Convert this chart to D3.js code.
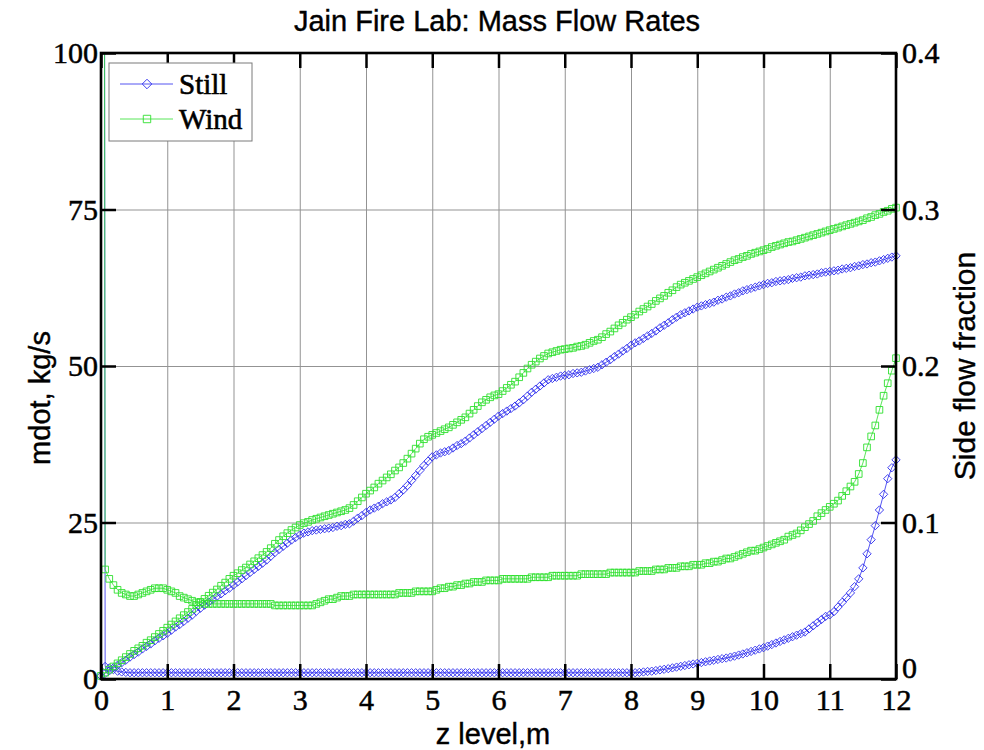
<!DOCTYPE html>
<html>
<head>
<meta charset="utf-8">
<script src="https://cdn.jsdelivr.net/npm/d3@7"></script>
<style>
  body { margin: 0; background: #fff; }
  svg { display: block; }
</style>
</head>
<body>
<svg id="chart" width="984" height="750"></svg>
<script>
// Height step of the sampled levels (m)
const zStep = 0.0625;

// Mass flow rate through each level, kg/s (left axis)
const stillMdot = [
  0.5,0.9,1.3,1.8,2.2,2.6,3.0,3.5,3.9,4.3,4.8,5.2,5.6,6.1,6.5,6.9,
  7.3,7.8,8.3,8.7,9.2,9.7,10.2,10.8,11.3,11.8,12.3,12.7,13.2,13.6,14.1,14.5,
  15.0,15.5,16.0,16.5,17.0,17.5,18.0,18.5,19.0,19.6,20.2,20.7,21.2,21.7,22.2,22.6,
  23.0,23.3,23.5,23.7,23.8,23.9,24.0,24.1,24.2,24.4,24.5,24.7,24.8,25.2,25.7,26.1,
  26.6,27.0,27.3,27.6,28.0,28.3,28.6,29.0,29.6,30.2,30.9,31.7,32.5,33.3,34.1,34.8,
  35.5,35.8,36.1,36.3,36.5,36.9,37.3,37.6,38.0,38.5,39.0,39.5,40.0,40.5,41.0,41.5,
  42.0,42.4,42.8,43.2,43.6,44.1,44.6,45.2,45.8,46.3,46.8,47.3,47.8,48.0,48.2,48.4,
  48.5,48.6,48.8,48.9,49.0,49.2,49.4,49.6,49.8,50.2,50.6,51.0,51.5,51.9,52.4,52.8,
  53.3,53.7,54.0,54.4,54.8,55.2,55.6,56.1,56.5,56.9,57.4,57.8,58.2,58.5,58.8,59.1,
  59.4,59.6,59.8,60.0,60.2,60.5,60.7,61.0,61.2,61.5,61.7,62.0,62.2,62.4,62.6,62.8,
  63.0,63.2,63.3,63.5,63.6,63.7,63.8,64.0,64.1,64.2,64.4,64.5,64.6,64.7,64.9,65.0,
  65.1,65.2,65.3,65.5,65.6,65.7,65.9,66.0,66.2,66.3,66.5,66.6,66.8,67.0,67.2,67.4,
  67.6
];
const windMdot = [
  0.5,1.0,1.5,2.0,2.5,3.0,3.5,4.0,4.5,4.9,5.3,5.8,6.2,6.7,7.2,7.7,
  8.2,8.7,9.2,9.7,10.2,10.7,11.2,11.8,12.3,12.8,13.3,13.8,14.3,14.9,15.4,16.0,
  16.5,16.9,17.4,17.8,18.3,18.8,19.3,19.8,20.3,20.9,21.6,22.2,22.8,23.3,23.8,24.2,
  24.6,24.9,25.1,25.4,25.6,25.8,26.0,26.2,26.4,26.6,26.8,27.0,27.3,27.8,28.4,29.0,
  29.6,30.1,30.6,31.2,31.7,32.2,32.7,33.3,33.8,34.5,35.2,36.0,36.8,37.6,38.3,38.7,
  39.0,39.3,39.6,39.9,40.2,40.6,41.0,41.4,41.8,42.4,43.0,43.6,44.2,44.6,45.0,45.3,
  45.5,46.0,46.5,47.0,47.5,48.2,48.9,49.6,50.2,50.7,51.2,51.6,52.0,52.2,52.4,52.6,
  52.7,52.8,52.9,53.1,53.2,53.4,53.7,54.0,54.2,54.6,55.1,55.5,56.0,56.5,56.9,57.4,
  57.8,58.2,58.7,59.1,59.5,59.9,60.4,60.8,61.2,61.7,62.1,62.6,63.0,63.3,63.6,63.9,
  64.2,64.5,64.8,65.1,65.4,65.7,66.0,66.3,66.6,66.9,67.1,67.4,67.6,67.9,68.1,68.3,
  68.5,68.7,69.0,69.2,69.4,69.6,69.8,69.9,70.1,70.3,70.5,70.7,70.9,71.1,71.3,71.5,
  71.7,71.9,72.1,72.3,72.5,72.7,72.9,73.1,73.3,73.6,73.8,74.1,74.3,74.6,74.8,75.1,
  75.3
];

// Side flow fraction at each level (right axis); the value at z = 0 is off scale
const stillSide = [
  3.0,0.008,0.007,0.006,0.005,0.0045,0.0042,0.004,0.004,0.004,0.004,0.004,0.004,0.004,0.004,0.004,
  0.004,0.004,0.004,0.004,0.004,0.004,0.004,0.004,0.004,0.004,0.004,0.004,0.004,0.004,0.004,0.004,
  0.004,0.004,0.004,0.004,0.004,0.004,0.004,0.004,0.004,0.004,0.004,0.004,0.004,0.004,0.004,0.004,
  0.004,0.004,0.004,0.004,0.004,0.004,0.004,0.004,0.004,0.004,0.004,0.004,0.004,0.004,0.004,0.004,
  0.004,0.004,0.004,0.004,0.004,0.004,0.004,0.004,0.004,0.004,0.004,0.004,0.004,0.004,0.004,0.004,
  0.004,0.004,0.004,0.004,0.004,0.004,0.004,0.004,0.004,0.004,0.004,0.004,0.004,0.004,0.004,0.004,
  0.004,0.004,0.004,0.004,0.004,0.004,0.004,0.004,0.004,0.004,0.004,0.004,0.004,0.004,0.004,0.004,
  0.004,0.004,0.004,0.004,0.004,0.004,0.004,0.004,0.004,0.004,0.004,0.004,0.004,0.004,0.004,0.004,
  0.004,0.004,0.0042,0.0045,0.0048,0.005,0.0054,0.0058,0.0062,0.0066,0.0071,0.0076,0.0081,0.0086,0.0091,0.0096,
  0.010,0.0105,0.011,0.0115,0.012,0.0125,0.013,0.0134,0.014,0.0146,0.0153,0.016,0.0168,0.0176,0.0184,0.0192,
  0.020,0.021,0.022,0.023,0.024,0.025,0.026,0.027,0.028,0.029,0.030,0.032,0.034,0.036,0.038,0.040,
  0.041,0.043,0.046,0.049,0.052,0.055,0.059,0.064,0.071,0.080,0.089,0.098,0.108,0.118,0.128,0.135,
  0.140
];
const windSide = [
  2.5,0.070,0.064,0.060,0.057,0.055,0.054,0.053,0.053,0.054,0.055,0.056,0.057,0.058,0.058,0.058,
  0.057,0.056,0.055,0.053,0.052,0.051,0.050,0.049,0.049,0.048,0.048,0.048,0.048,0.048,0.048,0.048,
  0.048,0.048,0.048,0.048,0.048,0.048,0.048,0.048,0.048,0.048,0.047,0.047,0.047,0.047,0.047,0.047,
  0.047,0.047,0.047,0.047,0.048,0.049,0.050,0.051,0.051,0.052,0.053,0.053,0.053,0.054,0.054,0.054,
  0.054,0.054,0.054,0.054,0.054,0.054,0.054,0.054,0.055,0.055,0.055,0.055,0.056,0.056,0.056,0.056,
  0.056,0.057,0.058,0.058,0.059,0.059,0.060,0.060,0.061,0.061,0.062,0.062,0.062,0.063,0.063,0.063,
  0.063,0.064,0.064,0.064,0.064,0.064,0.064,0.064,0.065,0.065,0.065,0.065,0.065,0.066,0.066,0.066,
  0.066,0.066,0.066,0.066,0.067,0.067,0.067,0.067,0.067,0.067,0.067,0.068,0.068,0.068,0.068,0.068,
  0.068,0.068,0.069,0.069,0.069,0.069,0.070,0.070,0.070,0.071,0.071,0.071,0.072,0.072,0.072,0.073,
  0.073,0.073,0.074,0.074,0.075,0.075,0.076,0.077,0.077,0.078,0.079,0.080,0.081,0.082,0.082,0.083,
  0.084,0.085,0.086,0.087,0.088,0.089,0.091,0.092,0.093,0.095,0.097,0.099,0.101,0.104,0.106,0.108,
  0.110,0.112,0.114,0.117,0.120,0.123,0.126,0.131,0.138,0.148,0.155,0.162,0.172,0.181,0.189,0.197,
  0.205
];

// Tick values and labels
const zTicks = [0,1,2,3,4,5,6,7,8,9,10,11,12];
const mdotTicks = [0,25,50,75,100];
const sideTicks = [0,0.1,0.2,0.3,0.4];
const sideTickLabels = ["0","0.1","0.2","0.3","0.4"];

const seriesNames = ["Still","Wind"];
const seriesColors = {Still: "#2a2aee", Wind: "#2ee02e"};

// ---------------------------------------------------------------
const svg = d3.select("#chart");
const plot = {left: 101, right: 896, top: 53, bottom: 679};

const x = d3.scaleLinear().domain([0, 12]).range([plot.left, plot.right]);
const yL = d3.scaleLinear().domain([0, 100]).range([plot.bottom, plot.top]);
const yR = d3.scaleLinear().domain([0, 0.4]).range([plot.bottom, plot.top]);

const zLevels = stillMdot.map((_, i) => i * zStep);

svg.append("defs").append("clipPath").attr("id", "plotClip")
  .append("rect")
  .attr("x", plot.left).attr("y", plot.top)
  .attr("width", plot.right - plot.left).attr("height", plot.bottom - plot.top);

// Grid lines
const grid = svg.append("g").attr("class", "grid");
grid.append("g")
  .attr("transform", `translate(0,${plot.bottom})`)
  .call(d3.axisBottom(x).tickValues(zTicks.slice(1, -1)).tickSize(-(plot.bottom - plot.top)).tickFormat(""))
  .call(g => g.select(".domain").remove());
grid.append("g")
  .attr("transform", `translate(${plot.left},0)`)
  .call(d3.axisLeft(yL).tickValues(mdotTicks.slice(1, -1)).tickSize(-(plot.right - plot.left)).tickFormat(""))
  .call(g => g.select(".domain").remove());
grid.selectAll("line").attr("stroke", "#939393").attr("stroke-width", 1);

// Series
const seriesDefs = [
  {name: "Still", values: stillMdot, scale: yL, marker: d3.symbolDiamond2},
  {name: "Still", values: stillSide, scale: yR, marker: d3.symbolDiamond2},
  {name: "Wind", values: windMdot, scale: yL, marker: d3.symbolSquare2},
  {name: "Wind", values: windSide, scale: yR, marker: d3.symbolSquare2}
];

const dataLayer = svg.append("g").attr("clip-path", "url(#plotClip)");
const markerSize = {Still: 44, Wind: 56};

seriesDefs.forEach(s => {
  const pts = s.values.map((v, i) => [zLevels[i], v]);
  const color = seriesColors[s.name];
  const line = d3.line().x(d => x(d[0])).y(d => s.scale(d[1]));
  dataLayer.append("path")
    .attr("d", line(pts))
    .attr("fill", "none")
    .attr("stroke", color)
    .attr("stroke-width", 0.8);
  const sym = d3.symbol().type(s.marker).size(markerSize[s.name]);
  svg.append("g").selectAll("path")
    .data(pts.filter(d => d[1] <= s.scale.domain()[1]))
    .join("path")
    .attr("d", sym)
    .attr("transform", d => `translate(${x(d[0])},${s.scale(d[1])})`)
    .attr("fill", "none")
    .attr("stroke", color)
    .attr("stroke-width", 0.9);
});

// Axes box and inward ticks
const tickLen = 15;
const axisColor = "#000";
const tickFont = "'Liberation Serif', 'Times New Roman', serif";

const bottomAxis = svg.append("g")
  .attr("transform", `translate(0,${plot.bottom})`)
  .call(d3.axisBottom(x).tickValues(zTicks).tickSizeInner(-tickLen).tickSizeOuter(0).tickPadding(8));
const topAxis = svg.append("g")
  .attr("transform", `translate(0,${plot.top})`)
  .call(d3.axisTop(x).tickValues(zTicks).tickSizeInner(-tickLen).tickSizeOuter(0).tickFormat(""));
const leftAxis = svg.append("g")
  .attr("transform", `translate(${plot.left},0)`)
  .call(d3.axisLeft(yL).tickValues(mdotTicks).tickSizeInner(-tickLen).tickSizeOuter(0).tickPadding(3));
const rightAxis = svg.append("g")
  .attr("transform", `translate(${plot.right},0)`)
  .call(d3.axisRight(yR).tickValues(sideTicks).tickSizeInner(-tickLen).tickSizeOuter(0).tickPadding(6)
    .tickFormat((d, i) => sideTickLabels[i]));

[bottomAxis, topAxis, leftAxis, rightAxis].forEach(a => {
  a.select(".domain").remove();
  a.selectAll(".tick line").attr("stroke", axisColor).attr("stroke-width", 2.5);
  a.selectAll(".tick text")
    .attr("fill", "#000")
    .attr("stroke", "#000").attr("stroke-width", 0.5)
    .style("font-family", tickFont)
    .style("font-size", "30px");
});
bottomAxis.selectAll(".tick text").attr("dy", "0.77em");
// the right-hand zero sits just above the "12" of the bottom axis
rightAxis.selectAll(".tick text").filter(d => d === 0).attr("dy", "-0.05em");

svg.append("rect")
  .attr("x", plot.left).attr("y", plot.top)
  .attr("width", plot.right - plot.left).attr("height", plot.bottom - plot.top)
  .attr("fill", "none").attr("stroke", axisColor).attr("stroke-width", 2.6);

// Titles
const sansFont = "'Liberation Sans', Arial, Helvetica, sans-serif";
function label(sel, size) {
  return sel.attr("text-anchor", "middle")
    .style("font-family", sansFont).style("font-size", size + "px")
    .attr("fill", "#000").attr("stroke", "#000").attr("stroke-width", 0.4);
}
label(svg.append("text").attr("x", 497).attr("y", 31), 29)
  .text("Jain Fire Lab: Mass Flow Rates");
label(svg.append("text").attr("x", 493).attr("y", 743.5), 29)
  .text("z level,m");
label(svg.append("text").attr("transform", "translate(50,398) rotate(-90)"), 29)
  .text("mdot, kg/s");
label(svg.append("text").attr("transform", `translate(975,${(plot.top + plot.bottom) / 2}) rotate(-90)`), 30)
  .text("Side flow fraction");

// Legend
const legend = svg.append("g");
legend.append("rect")
  .attr("x", 109).attr("y", 63).attr("width", 143).attr("height", 78)
  .attr("fill", "#fff").attr("stroke", "#7a7a7a").attr("stroke-width", 1);
const legendMarkers = {Still: d3.symbolDiamond2, Wind: d3.symbolSquare2};
seriesNames.forEach((name, i) => {
  const ly = 84 + i * 35;
  const color = seriesColors[name];
  legend.append("line")
    .attr("x1", 120).attr("x2", 173).attr("y1", ly).attr("y2", ly)
    .attr("stroke", color).attr("stroke-width", 0.8);
  legend.append("path")
    .attr("d", d3.symbol().type(legendMarkers[name]).size(markerSize[name] + 14)())
    .attr("transform", `translate(147,${ly})`)
    .attr("fill", "none").attr("stroke", color).attr("stroke-width", 0.9);
  legend.append("text")
    .attr("x", 179).attr("y", ly + 10)
    .style("font-family", tickFont).style("font-size", "29px")
    .attr("fill", "#000").attr("stroke", "#000").attr("stroke-width", 0.6)
    .text(name);
});
</script>
</body>
</html>
